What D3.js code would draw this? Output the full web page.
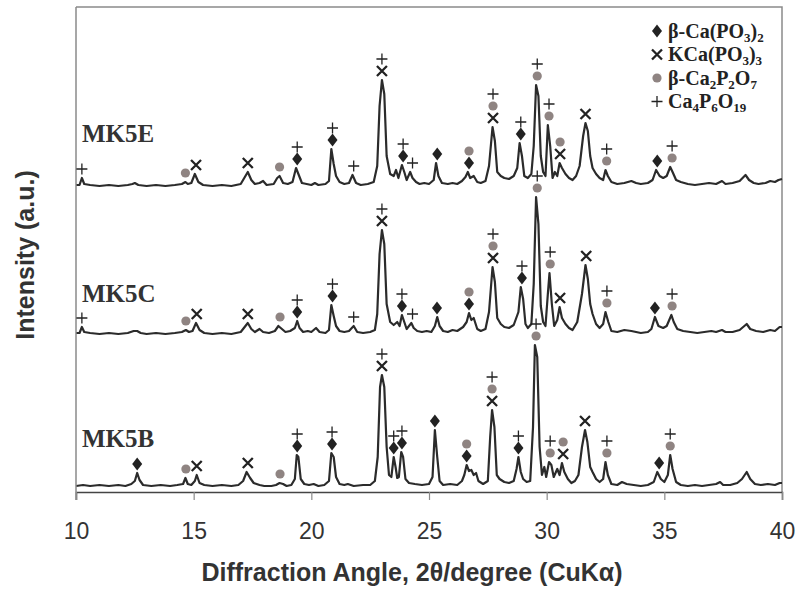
<!DOCTYPE html>
<html><head><meta charset="utf-8">
<script src="https://cdn.jsdelivr.net/npm/d3@7"></script>
<style>body{margin:0;background:#fff}svg{display:block}</style>
</head><body><svg id="c" width="797" height="589"></svg>
<script>
// ---- data ----
const sampleNames = ["MK5B", "MK5C", "MK5E"];
const sampleOffsets = [5, 158, 306];
const xTicks = [10, 15, 20, 25, 30, 35, 40];

const mk5B = [
[10.0,1],[10.3,2],[10.6,1],[11.0,2],[11.4,1],[11.8,2],[12.1,1],[12.35,3],[12.5,6],[12.6,14],[12.7,7],[12.85,2],[13.2,1],[13.6,2],[14.0,1],[14.3,2],[14.55,3],[14.65,9],[14.75,3],[14.9,2],[15.05,6],[15.13,12],[15.25,4],[15.45,2],[15.8,1],[16.2,2],[16.6,1],[16.9,2],[17.1,6],[17.25,15],[17.4,9],[17.55,4],[17.8,2],[18.0,1],[18.3,1],[18.5,2],[18.65,4],[18.8,3],[18.95,1],[19.15,2],[19.3,8],[19.38,32],[19.45,30],[19.55,8],[19.7,3],[19.9,2],[20.1,3],[20.3,1],[20.55,2],[20.75,6],[20.85,34],[20.95,30],[21.05,10],[21.2,3],[21.4,2],[21.55,3],[21.8,1],[22.2,2],[22.5,2],[22.7,6],[22.82,30],[22.92,100],[23.0,112],[23.1,100],[23.2,40],[23.3,12],[23.4,10],[23.5,30],[23.58,20],[23.65,9],[23.72,10],[23.82,35],[23.9,30],[24.0,8],[24.15,4],[24.4,3],[24.7,2],[25.0,3],[25.15,10],[25.25,57],[25.35,30],[25.45,6],[25.6,2],[25.9,3],[26.2,2],[26.4,6],[26.5,12],[26.6,22],[26.7,16],[26.8,17],[26.9,12],[27.0,14],[27.1,6],[27.3,3],[27.5,6],[27.6,50],[27.68,77],[27.78,60],[27.88,12],[28.0,8],[28.2,5],[28.4,4],[28.6,6],[28.72,18],[28.8,30],[28.9,15],[29.0,8],[29.15,5],[29.3,6],[29.42,60],[29.5,142],[29.6,130],[29.7,40],[29.8,12],[29.9,20],[29.98,10],[30.1,25],[30.2,22],[30.3,10],[30.45,18],[30.55,12],[30.65,24],[30.75,15],[30.9,8],[31.05,4],[31.2,6],[31.35,12],[31.5,40],[31.63,57],[31.73,45],[31.85,20],[31.95,15],[32.1,8],[32.25,5],[32.4,8],[32.5,25],[32.6,12],[32.75,3],[33.0,2],[33.2,5],[33.4,3],[33.7,2],[34.0,1],[34.3,2],[34.55,5],[34.7,15],[34.85,8],[35.0,5],[35.15,12],[35.25,32],[35.35,18],[35.5,5],[35.7,2],[36.0,1],[36.3,2],[36.6,1],[36.9,2],[37.2,3],[37.37,5],[37.5,2],[37.8,2],[38.1,4],[38.3,8],[38.5,15],[38.65,8],[38.85,3],[39.1,2],[39.4,3],[39.7,2],[39.9,4],[40.0,4]
];
const mk5C = [
[10.0,1],[10.15,1],[10.25,7],[10.35,2],[10.6,1],[11.0,0],[11.4,1],[11.8,0],[12.2,1],[12.45,3],[12.6,3],[12.75,1],[13.0,0],[13.4,1],[13.8,0],[14.2,1],[14.5,2],[14.67,4],[14.8,2],[14.95,3],[15.1,11],[15.25,4],[15.45,1],[15.8,0],[16.2,1],[16.6,0],[17.0,2],[17.2,8],[17.3,11],[17.45,5],[17.6,2],[17.8,5],[17.95,2],[18.2,1],[18.45,3],[18.6,8],[18.75,5],[18.9,2],[19.1,3],[19.3,6],[19.4,13],[19.5,6],[19.65,2],[19.85,3],[20.0,2],[20.2,6],[20.35,2],[20.6,1],[20.75,4],[20.85,29],[20.95,18],[21.05,8],[21.2,3],[21.4,2],[21.6,3],[21.8,8],[21.95,2],[22.2,1],[22.5,2],[22.7,4],[22.8,20],[22.9,80],[23.0,104],[23.1,90],[23.2,30],[23.35,12],[23.5,9],[23.65,12],[23.75,8],[23.85,19],[23.95,12],[24.05,5],[24.25,11],[24.35,6],[24.5,3],[24.7,2],[24.9,3],[25.1,2],[25.25,8],[25.35,17],[25.45,8],[25.6,3],[25.8,2],[26.0,4],[26.2,3],[26.45,7],[26.6,12],[26.7,21],[26.8,14],[26.9,16],[27.05,5],[27.2,3],[27.4,5],[27.55,22],[27.7,67],[27.8,52],[27.9,16],[28.05,10],[28.2,7],[28.4,6],[28.6,9],[28.8,22],[28.9,47],[29.0,35],[29.1,10],[29.2,6],[29.35,10],[29.45,50],[29.55,137],[29.65,110],[29.75,28],[29.85,12],[29.95,8],[30.05,40],[30.12,61],[30.22,30],[30.32,8],[30.45,14],[30.55,27],[30.65,16],[30.8,10],[30.95,6],[31.1,4],[31.3,12],[31.5,40],[31.65,69],[31.75,55],[31.85,30],[31.95,20],[32.1,10],[32.25,6],[32.4,10],[32.5,22],[32.62,12],[32.75,3],[33.0,2],[33.3,4],[33.6,3],[33.8,2],[34.0,1],[34.3,2],[34.45,5],[34.6,17],[34.75,8],[34.95,6],[35.1,8],[35.3,19],[35.4,12],[35.55,5],[35.8,3],[36.1,2],[36.4,1],[36.7,2],[37.0,3],[37.2,2],[37.45,4],[37.6,2],[37.9,2],[38.2,4],[38.5,10],[38.65,5],[38.9,3],[39.2,2],[39.5,4],[39.7,3],[39.9,7],[40.0,7]
];
const mk5E = [
[10.0,1],[10.15,1],[10.25,8],[10.35,2],[10.6,1],[11.0,0],[11.4,1],[11.8,0],[12.2,1],[12.4,2],[12.5,3],[12.65,1],[13.0,0],[13.4,1],[13.8,0],[14.2,1],[14.5,2],[14.65,4],[14.75,2],[14.9,3],[15.05,12],[15.2,4],[15.4,1],[15.8,0],[16.2,1],[16.6,0],[17.0,2],[17.2,10],[17.3,14],[17.45,6],[17.6,2],[17.8,3],[17.95,5],[18.1,1],[18.4,2],[18.55,8],[18.65,10],[18.8,3],[19.0,2],[19.2,4],[19.35,18],[19.45,12],[19.6,3],[19.8,2],[20.0,1],[20.15,3],[20.3,1],[20.6,2],[20.75,5],[20.85,37],[20.95,22],[21.05,10],[21.2,4],[21.4,2],[21.6,3],[21.75,11],[21.9,3],[22.1,1],[22.4,2],[22.65,4],[22.8,20],[22.9,80],[23.0,106],[23.1,92],[23.2,30],[23.35,12],[23.5,10],[23.6,16],[23.7,8],[23.85,21],[23.95,14],[24.05,6],[24.2,14],[24.3,8],[24.45,4],[24.6,2],[24.8,3],[25.0,2],[25.2,6],[25.3,23],[25.4,10],[25.55,3],[25.8,2],[26.0,3],[26.2,2],[26.4,5],[26.55,9],[26.65,14],[26.75,8],[26.9,10],[27.05,4],[27.2,3],[27.4,5],[27.55,20],[27.7,59],[27.8,45],[27.9,14],[28.05,10],[28.2,8],[28.4,7],[28.6,10],[28.75,18],[28.85,43],[28.95,30],[29.05,10],[29.2,8],[29.35,12],[29.45,40],[29.55,101],[29.65,90],[29.75,30],[29.85,14],[29.95,10],[30.05,61],[30.15,40],[30.25,8],[30.35,14],[30.45,10],[30.55,23],[30.65,18],[30.8,12],[30.95,8],[31.1,6],[31.25,10],[31.4,20],[31.55,50],[31.65,63],[31.75,55],[31.85,30],[31.95,18],[32.1,12],[32.25,8],[32.4,6],[32.5,16],[32.6,10],[32.75,4],[33.0,2],[33.3,3],[33.6,5],[33.8,3],[34.0,2],[34.3,3],[34.5,6],[34.65,16],[34.8,10],[34.95,8],[35.1,10],[35.25,19],[35.35,14],[35.5,6],[35.7,4],[36.0,2],[36.3,1],[36.6,2],[36.9,3],[37.2,2],[37.45,5],[37.6,2],[37.9,3],[38.2,5],[38.45,11],[38.6,6],[38.8,3],[39.0,2],[39.3,3],[39.5,5],[39.7,4],[39.85,6],[40.0,7]
];

// phase codes: D = β-Ca(PO3)2, X = KCa(PO3)3, O = β-Ca2P2O7, P = Ca4P6O19 (listed bottom to top)
const marksB = [[12.6,"D"],[14.67,"O"],[15.13,"X"],[17.3,"X"],[18.67,"O"],[19.4,"DP"],[20.88,"DP"],[23.0,"XP"],[23.5,"DP"],[23.85,"DP"],[25.25,"D"],[26.6,"DO"],[27.68,"XOP"],[28.8,"DP"],[29.55,"OP"],[30.15,"OP"],[30.7,"XO"],[31.63,"X"],[32.56,"OP"],[34.78,"D"],[35.25,"OP"]];
const marksC = [[10.25,"P"],[14.67,"O"],[15.13,"X"],[17.3,"X"],[18.67,"O"],[19.4,"DP"],[20.9,"DP"],[21.8,"P"],[23.0,"XP"],[23.85,"DP"],[24.3,"P"],[25.34,"D"],[26.7,"DO"],[27.72,"XOP"],[28.95,"DP"],[29.6,"OP"],[30.15,"OP"],[30.57,"X"],[31.68,"X"],[32.56,"OP"],[34.6,"D"],[35.33,"OP"]];
const marksE = [[10.25,"P"],[14.65,"O"],[15.1,"X"],[17.3,"X"],[18.65,"O"],[19.4,"DP"],[20.9,"DP"],[21.8,"P"],[23.0,"XP"],[23.9,"DP"],[24.3,"P"],[25.35,"D"],[26.7,"DO"],[27.72,"XOP"],[28.9,"DP"],[29.6,"OP"],[30.1,"OP"],[30.57,"XO"],[31.65,"X"],[32.55,"OP"],[34.7,"D"],[35.33,"OP"]];

const legendCodes = ["D", "X", "O", "P"];
const legendLabels = [
  [["β-Ca(PO",0],["3",1],[")",0],["2",1]],
  [["KCa(PO",0],["3",1],[")",0],["3",1]],
  [["β-Ca",0],["2",1],["P",0],["2",1],["O",0],["7",1]],
  [["Ca",0],["4",1],["P",0],["6",1],["O",0],["19",1]]
];

// ---- drawing ----
const svg = d3.select("#c");
const m = {l:76, r:782, t:7, b:492};
const x = d3.scaleLinear().domain([10,40]).range([m.l, m.r]);
const y = d3.scaleLinear().domain([0,485]).range([m.b, m.t]);

const traces = [mk5B, mk5C, mk5E];
const marks = [marksB, marksC, marksE];
const ink = "#2b2b2b";

// frame
svg.append("path").attr("d", `M${m.l},${m.t}H${m.r}V${m.b}`).attr("fill","none").attr("stroke","#8a8a8a").attr("stroke-width",1.5);

const line = d3.line().x(d=>x(d[0])).y(d=>d[1]);
traces.forEach((tr,i)=>{
  const off = sampleOffsets[i];
  svg.append("path").datum(tr.map(d=>[d[0], y(d[1]+off)]))
    .attr("d", line).attr("fill","none").attr("stroke",ink).attr("stroke-width",2.2).attr("stroke-linejoin","round");
});

// axes
const xAxis = d3.axisBottom(x).tickValues(xTicks).tickSize(8).tickFormat(d3.format("d"));
const gx = svg.append("g").attr("transform",`translate(0,${m.b})`).call(xAxis);
gx.select(".domain").attr("stroke","#444").attr("stroke-width",1.5);
gx.selectAll(".tick line").attr("stroke","#8a8a8a").attr("stroke-width",1.2);
gx.selectAll(".tick text").attr("fill","#333").attr("font-family","'Liberation Sans',Arial,sans-serif").attr("font-size",23).attr("y",31).attr("dy","0.71em");
svg.append("line").attr("x1",m.l).attr("x2",m.l).attr("y1",m.t).attr("y2",m.b+8).attr("stroke","#8a8a8a").attr("stroke-width",1.5);

// marker drawing
function drawMark(g, code, cx, cy){
  if(code==="D"){
    g.append("path").attr("d",`M${cx},${cy-6.5}L${cx+5},${cy}L${cx},${cy+6.5}L${cx-5},${cy}Z`).attr("fill","#222");
  } else if(code==="X"){
    g.append("path").attr("d",`M${cx-5},${cy-5}L${cx+5},${cy+5}M${cx-5},${cy+5}L${cx+5},${cy-5}`).attr("stroke","#222").attr("stroke-width",2.3);
  } else if(code==="O"){
    g.append("circle").attr("cx",cx).attr("cy",cy).attr("r",4.6).attr("fill","#8f8482");
  } else {
    g.append("path").attr("d",`M${cx-5.5},${cy}H${cx+5.5}M${cx},${cy-5.5}V${cy+5.5}`).attr("stroke","#222").attr("stroke-width",1.3);
  }
}
const gm = svg.append("g");
marks.forEach((ml,i)=>{
  const tr = traces[i], off = sampleOffsets[i];
  ml.forEach(([a,codes])=>{
    const top = d3.max(tr.filter(d=>Math.abs(d[0]-a)<=0.13), d=>d[1]) ?? 0;
    const base = y(top+off);
    codes.split("").forEach((c,k)=>{
      drawMark(gm, c, x(a), base - 9 - k*12);
    });
  });
});

// sample labels
sampleNames.forEach((n,i)=>{
  svg.append("text").attr("x", 82).attr("y", y(sampleOffsets[i]) - [40,32,44][i])
    .attr("font-family","'Liberation Serif','Times New Roman',serif").attr("font-weight","bold")
    .attr("font-size",25).attr("fill","#333").text(n);
});

// legend
legendCodes.forEach((c,i)=>{
  const cy = 31 + i*23.5;
  drawMark(svg, c, 657, cy);
  const t = svg.append("text").attr("x",668).attr("y",cy+6.5)
    .attr("font-family","'Liberation Serif','Times New Roman',serif").attr("font-weight","bold")
    .attr("font-size",20).attr("fill","#222");
  let prevSub = 0;
  legendLabels[i].forEach(([s,sub])=>{
    const ts = t.append("tspan").text(s);
    if(sub) ts.attr("font-size",13);
    ts.attr("dy", sub && !prevSub ? 4 : (!sub && prevSub ? -4 : 0));
    prevSub = sub;
  });
});

// axis titles
svg.append("text").attr("x", 412).attr("y", 581).attr("text-anchor","middle")
  .attr("font-family","'Liberation Sans',Arial,sans-serif").attr("font-weight","bold").attr("font-size",25).attr("fill","#333")
  .text("Diffraction Angle, 2θ/degree (CuKα)");
svg.append("text").attr("transform","translate(34,255) rotate(-90)").attr("text-anchor","middle")
  .attr("font-family","'Liberation Sans',Arial,sans-serif").attr("font-weight","bold").attr("font-size",25).attr("fill","#333")
  .text("Intensity (a.u.)");
</script></body></html>
